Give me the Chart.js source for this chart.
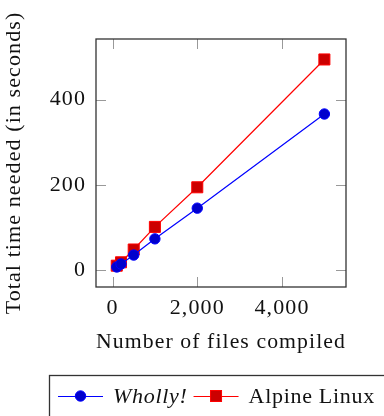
<!DOCTYPE html>
<html>
<head>
<meta charset="utf-8">
<script src="https://cdn.jsdelivr.net/npm/chart.js@4/dist/chart.umd.min.js"></script>
<style>
html,body{margin:0;padding:0;background:#fff;}
#wrap{position:relative;width:384px;height:416px;}
</style>
</head>
<body>
<div id="wrap"><canvas id="c" width="384" height="416"></canvas></div>
<script>
const filesCompiled = [100, 200, 500, 1000, 2000, 5000];
const whollyTimes = [7, 14, 35, 73, 145, 366];
const alpineTimes = [10, 18, 48, 101, 194, 494];
const xTickValues = [0, 2000, 4000];
const yTickValues = [0, 200, 400];
const seriesLabels = ['Wholly!', 'Alpine Linux'];
const xTitle = 'Number of files compiled';
const yTitle = 'Total time needed (in seconds)';

const FONT = "'Liberation Serif', serif";
const FS = 22;
const SPACING = '1.1px';

const frame = {
  id: 'frame',
  beforeInit(chart) { chart.ctx.letterSpacing = SPACING; },
  beforeLayout(chart) { chart.ctx.letterSpacing = SPACING; },
  beforeDraw(chart) { chart.ctx.letterSpacing = SPACING; },
  afterDatasetsDraw(chart) {
    const {ctx, chartArea: a, scales: {x, y}} = chart;
    ctx.save();
    ctx.strokeStyle = '#999';
    ctx.lineWidth = 1;
    const tl = 10;
    xTickValues.forEach(v => {
      const px = Math.round(x.getPixelForValue(v)) + 0.5;
      ctx.beginPath();
      ctx.moveTo(px, a.bottom); ctx.lineTo(px, a.bottom - tl);
      ctx.moveTo(px, a.top); ctx.lineTo(px, a.top + tl);
      ctx.stroke();
    });
    yTickValues.forEach(v => {
      const py = Math.round(y.getPixelForValue(v)) + 0.5;
      ctx.beginPath();
      ctx.moveTo(a.left, py); ctx.lineTo(a.left + tl, py);
      ctx.moveTo(a.right, py); ctx.lineTo(a.right - tl, py);
      ctx.stroke();
    });
    ctx.strokeStyle = '#333';
    ctx.lineWidth = 1.3;
    ctx.strokeRect(a.left, a.top, a.right - a.left, a.bottom - a.top);
    ctx.restore();
  },
  afterDraw(chart) {
    const {ctx} = chart;
    const italic = [true, false];
    ctx.save();
    ctx.letterSpacing = '0.7px';
    ctx.strokeStyle = '#333';
    ctx.lineWidth = 1.3;
    ctx.strokeRect(49.5, 375.5, 400, 100);
    const cy = 396;
    let xPos = 58;
    chart.data.datasets.forEach((ds, i) => {
      ctx.strokeStyle = ds.borderColor;
      ctx.lineWidth = 1.2;
      ctx.beginPath();
      ctx.moveTo(xPos, cy + 0.5); ctx.lineTo(xPos + 45, cy + 0.5);
      ctx.stroke();
      ctx.fillStyle = ds.pointBackgroundColor;
      ctx.strokeStyle = ds.pointBorderColor;
      ctx.lineWidth = 1;
      const mx = xPos + 22.5;
      if (ds.pointStyle === 'rect') {
        ctx.fillRect(mx - 5.5, cy - 5.5, 11, 11);
        ctx.strokeRect(mx - 5.5, cy - 5.5, 11, 11);
      } else {
        ctx.beginPath(); ctx.arc(mx, cy, 5.2, 0, Math.PI * 2); ctx.fill(); ctx.stroke();
      }
      ctx.fillStyle = '#111';
      ctx.font = (italic[i] ? 'italic ' : '') + FS + 'px ' + FONT;
      ctx.textBaseline = 'middle';
      ctx.textAlign = 'left';
      ctx.fillText(ds.label, xPos + 55, cy + 1);
      xPos += 55 + ctx.measureText(ds.label).width + 6;
    });
    ctx.restore();
  }
};

new Chart(document.getElementById('c'), {
  type: 'line',
  data: {
    datasets: [
      {
        label: seriesLabels[0],
        data: filesCompiled.map((f, i) => ({x: f, y: whollyTimes[i]})),
        borderColor: '#0000ff', borderWidth: 1.2,
        pointStyle: 'circle', pointRadius: 5.2,
        pointBackgroundColor: '#0000cc', pointBorderColor: '#0000ff', pointBorderWidth: 1
      },
      {
        label: seriesLabels[1],
        data: filesCompiled.map((f, i) => ({x: f, y: alpineTimes[i]})),
        borderColor: '#ff0000', borderWidth: 1.2,
        pointStyle: 'rect', pointRadius: 7.8,
        pointBackgroundColor: '#cc0000', pointBorderColor: '#ff0000', pointBorderWidth: 1
      }
    ]
  },
  options: {
    responsive: false, animation: false,
    layout: {padding: {left: 0, top: 39, right: 38, bottom: 61}},
    plugins: {legend: {display: false}, tooltip: {enabled: false}},
    scales: {
      x: {
        type: 'linear', min: -390, max: 5510,
        afterBuildTicks: s => { s.ticks = xTickValues.map(v => ({value: v})); },
        afterFit: s => { s.height = 68; },
        grid: {display: false, drawTicks: false}, border: {display: false},
        ticks: {padding: 8, color: '#111', font: {family: FONT, size: FS},
          callback: v => v.toLocaleString('en-US')},
        title: {display: true, text: xTitle, color: '#111', padding: 0, font: {family: FONT, size: FS}}
      },
      y: {
        type: 'linear', min: -40, max: 542,
        afterBuildTicks: s => { s.ticks = yTickValues.map(v => ({value: v})); },
        afterFit: s => { s.width = 96; },
        grid: {display: false, drawTicks: false}, border: {display: false},
        ticks: {padding: 10, color: '#111', font: {family: FONT, size: FS}},
        title: {display: true, text: yTitle, color: '#111', padding: {top: 1.4, bottom: 0}, font: {family: FONT, size: FS}}
      }
    }
  },
  plugins: [frame]
});
</script>
</body>
</html>
